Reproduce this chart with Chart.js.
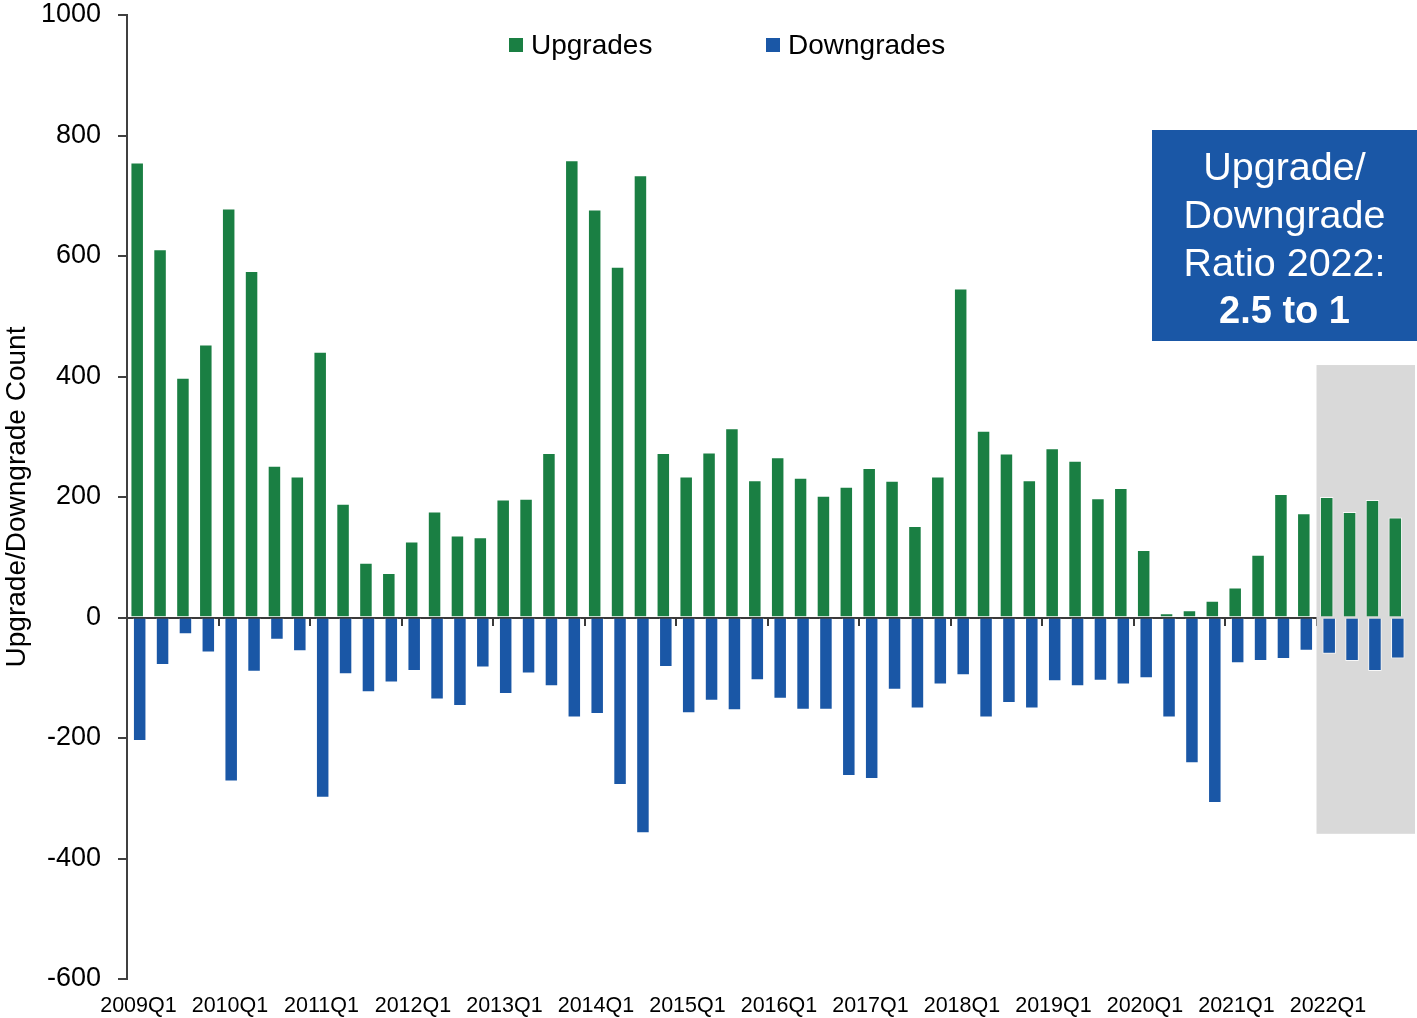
<!DOCTYPE html>
<html>
<head>
<meta charset="utf-8">
<script src="https://cdn.jsdelivr.net/npm/chart.js@4/dist/chart.umd.min.js"></script>
<style>
html,body{margin:0;padding:0;background:#fff;}
#wrap{width:1417px;height:1018px;position:relative;}
</style>
</head>
<body>
<div id="wrap"><canvas id="c" width="1417" height="1018"></canvas></div>
<script>
const quarters = [
  '2009Q1','2009Q2','2009Q3','2009Q4','2010Q1','2010Q2','2010Q3','2010Q4',
  '2011Q1','2011Q2','2011Q3','2011Q4','2012Q1','2012Q2','2012Q3','2012Q4',
  '2013Q1','2013Q2','2013Q3','2013Q4','2014Q1','2014Q2','2014Q3','2014Q4',
  '2015Q1','2015Q2','2015Q3','2015Q4','2016Q1','2016Q2','2016Q3','2016Q4',
  '2017Q1','2017Q2','2017Q3','2017Q4','2018Q1','2018Q2','2018Q3','2018Q4',
  '2019Q1','2019Q2','2019Q3','2019Q4','2020Q1','2020Q2','2020Q3','2020Q4',
  '2021Q1','2021Q2','2021Q3','2021Q4','2022Q1','2022Q2','2022Q3','2022Q4'
];
const tickLabels = ['2009Q1','2010Q1','2011Q1','2012Q1','2013Q1','2014Q1','2015Q1','2016Q1','2017Q1','2018Q1','2019Q1','2020Q1','2021Q1','2022Q1'];
const upgrades = [755,611,398,453,679,575,252,234,441,189,91,74,126,176,136,133,196,197,273,759,677,582,734,273,234,274,314,228,266,232,202,217,248,227,152,234,546,310,272,228,281,260,198,215,112,7,12,28,50,104,205,173,200,175,195,166];
const downgrades = [-205,-79,-28,-58,-272,-90,-37,-56,-299,-94,-124,-108,-89,-136,-147,-83,-127,-93,-114,-166,-160,-278,-358,-82,-159,-138,-154,-104,-135,-153,-153,-263,-268,-120,-151,-111,-96,-166,-142,-151,-106,-114,-105,-111,-101,-166,-242,-308,-76,-72,-69,-55,-60,-72,-89,-68];
const seriesNames = ['Upgrades','Downgrades'];
const seriesColors = ['#1a7f43','#1a57a6'];
const yTicks = {min:-600, max:1000, step:200};
const highlightStart = '2022Q1';
const highlightRange = {top:419, bottom:-359};
const annotationLines = ['Upgrade/','Downgrade','Ratio 2022:','2.5 to 1'];

const FONT = "'Liberation Sans', Arial, Helvetica, sans-serif";

const highlightPlugin = {
  id:'highlight',
  beforeDatasetsDraw(chart){
    const xs = chart.scales.x, ys = chart.scales.y, ctx = chart.ctx;
    const i = quarters.indexOf(highlightStart);
    const w = xs.getPixelForValue(1) - xs.getPixelForValue(0);
    const left = xs.getPixelForValue(i) - w/2;
    const right = chart.chartArea.right + 7;
    const top = ys.getPixelForValue(highlightRange.top);
    const bottom = ys.getPixelForValue(highlightRange.bottom);
    ctx.save();
    ctx.fillStyle = '#d9d9d9';
    ctx.fillRect(left, top, right-left, bottom-top);
    ctx.restore();
  }
};

const legendPlugin = {
  id:'customLegend',
  afterDraw(chart){
    const ctx = chart.ctx;
    const xs = [509, 766];
    const yMid = 45;
    ctx.save();
    ctx.font = '28px ' + FONT;
    ctx.textBaseline = 'middle';
    ctx.textAlign = 'left';
    chart.data.datasets.forEach((ds, k) => {
      ctx.fillStyle = ds.backgroundColor;
      ctx.fillRect(xs[k], yMid-7, 14, 14);
      ctx.fillStyle = '#000';
      ctx.fillText(ds.label, xs[k]+22, yMid+1);
    });
    ctx.restore();
  }
};

const boxPlugin = {
  id:'ratioBox',
  afterDraw(chart){
    const ctx = chart.ctx;
    const x0 = 1152, y0 = 130, x1 = 1417, y1 = 341;
    ctx.save();
    ctx.fillStyle = '#1a57a6';
    ctx.fillRect(x0, y0, x1-x0, y1-y0);
    ctx.fillStyle = '#fff';
    ctx.textAlign = 'center';
    ctx.textBaseline = 'alphabetic';
    const cx = (x0+x1)/2;
    const baselines = [180, 228, 276, 323];
    annotationLines.forEach((t, k) => {
      ctx.font = (k === 3 ? 'bold 38px ' : '39.5px ') + FONT;
      ctx.fillText(t, cx, baselines[k]);
    });
    ctx.restore();
  }
};

new Chart(document.getElementById('c'), {
  type:'bar',
  data:{
    labels: quarters,
    datasets:[
      {label:seriesNames[0], data:upgrades, backgroundColor:seriesColors[0], borderColor:'rgba(255,255,255,0.8)', borderWidth:1, categoryPercentage:0.2186, barPercentage:5.4},
      {label:seriesNames[1], data:downgrades, backgroundColor:seriesColors[1], borderColor:'rgba(255,255,255,0.8)', borderWidth:1, categoryPercentage:0.2186, barPercentage:5.4}
    ]
  },
  options:{
    responsive:false,
    devicePixelRatio:1,
    animation:false,
    layout:{padding:{top:0, right:9, bottom:0, left:0}},
    plugins:{legend:{display:false}, tooltip:{enabled:false}, title:{display:false}},
    scales:{
      x:{
        type:'category', position:'bottom',
        grid:{display:false, drawTicks:false},
        border:{display:false},
        ticks:{
          autoSkip:false, maxRotation:0, minRotation:0, padding:14, color:'#000',
          font:{size:21.5, family:FONT},
          callback(v){ const l = this.getLabelForValue(v); return tickLabels.includes(l) ? l : ''; }
        },
        afterFit(s){ s.height = 39; }
      },
      x2:{
        type:'category', axis:'x', position:{y:0}, offset:true, z:1,
        grid:{display:true, offset:true, drawOnChartArea:false, drawTicks:true, tickLength:7, lineWidth:2,
          color:(c)=> (c.index % 4 === 0 ? '#3a3a3a' : 'rgba(0,0,0,0)')},
        border:{display:true, color:'#3a3a3a', width:2},
        ticks:{display:false}
      },
      y:{
        min:yTicks.min, max:yTicks.max,
        ticks:{stepSize:yTicks.step, padding:17, color:'#000', font:{size:27, family:FONT},
          callback(v){ return String(v); }},
        grid:{display:true, drawOnChartArea:false, drawTicks:true, tickLength:9, color:'#404040', lineWidth:2},
        border:{display:true, color:'#404040', width:2},
        title:{display:true, text:'Upgrade/Downgrade Count', color:'#000', font:{size:28, family:FONT}, padding:0},
        afterFit(s){ s.width = 127; s.paddingTop = 15; s.paddingBottom = 0; }
      }
    }
  },
  plugins:[highlightPlugin, legendPlugin, boxPlugin]
});
</script>
</body>
</html>
